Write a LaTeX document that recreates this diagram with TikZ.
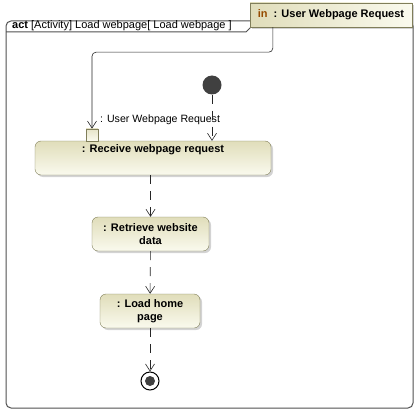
\documentclass[tikz,border=0pt]{standalone}
\usepackage{fontspec}
\setmainfont{Liberation Sans}
\usepackage{tikz}
\usetikzlibrary{positioning,arrows.meta,shadows}
\usepackage{xcolor}
\definecolor{actfill}{RGB}{224,221,186}
\definecolor{actlite}{RGB}{250,250,238}
\definecolor{actline}{RGB}{128,126,90}
\definecolor{inbrown}{RGB}{150,75,0}
\definecolor{framegray}{RGB}{80,80,80}
\definecolor{dotgray}{RGB}{64,64,64}

\begin{document}
\begin{tikzpicture}[x=1pt,y=-1pt,>={Straight Barb[length=7pt,width=9pt]},font=\fontsize{11}{13}\selectfont,
  action/.style={draw=actline,rounded corners=6pt,top color=actfill,bottom color=actlite,drop shadow={shadow xshift=2pt,shadow yshift=-2pt,opacity=0.35},inner sep=3pt,align=center,font=\fontsize{11}{13}\selectfont\bfseries},
  flow/.style={->,draw=black!85,line width=0.6pt,dash pattern=on 9pt off 7pt}]
\useasboundingbox (0,0) rectangle (419,414);
% frame
\draw[framegray,line width=1pt,rounded corners=5pt] (6,21) rectangle (413,408);
\draw[framegray,line width=1pt] (6,32) -- (246,32) -- (257,21);
\node[anchor=base west,inner sep=0pt] (title) at (12,29) {\textbf{act} [Activity] Load webpage[ Load webpage ]};
\node[draw=actline,left color=actfill,right color=actlite,drop shadow={shadow xshift=2pt,shadow yshift=-2pt,opacity=0.35},minimum width=162pt,minimum height=24pt,inner sep=0pt,font=\fontsize{11}{13}\selectfont\bfseries] (req) at (331,15) {\textcolor{inbrown}{in}\ \ : User Webpage Request};
% nodes
\node[circle,fill=dotgray,minimum size=19pt,inner sep=0pt] (start) at (212,85) {};
\node[action,minimum width=236pt,text height=8pt,text depth=20pt] (recv) at (153,158) {: Receive webpage request};
\node[draw=actline,top color=actfill!80,bottom color=actlite,minimum size=12pt,inner sep=0pt,anchor=south] (pin) at (92,141) {};
\node[anchor=base west,inner sep=0pt,font=\fontsize{10.6}{12}\selectfont] (pinname) at (100,122) {: User Webpage Request};
\node[action,minimum width=117pt,minimum height=34pt] (fetch) at (150.5,234) {: Retrieve website\\data};
\node[action,minimum width=100pt,minimum height=34pt] (home) at (150,311) {: Load home\\page};
\node[circle,draw=black,line width=1pt,fill=white,minimum size=18pt,inner sep=0pt,
  path picture={\fill[dotgray] (path picture bounding box.center) circle (5pt);}] (done) at (150,381) {};
% connectors
\draw[->,draw=black!85,line width=0.6pt,rounded corners=4pt] ([xshift=23pt]req.south west) -- ++(0,25) -| (pin.north);
\draw[flow] (start) -- (start |- recv.north);
\draw[flow] (fetch.north |- recv.south) -- (fetch.north);
\draw[flow] (fetch) -- (home);
\draw[flow] (home) -- (done);
\end{tikzpicture}
\end{document}
